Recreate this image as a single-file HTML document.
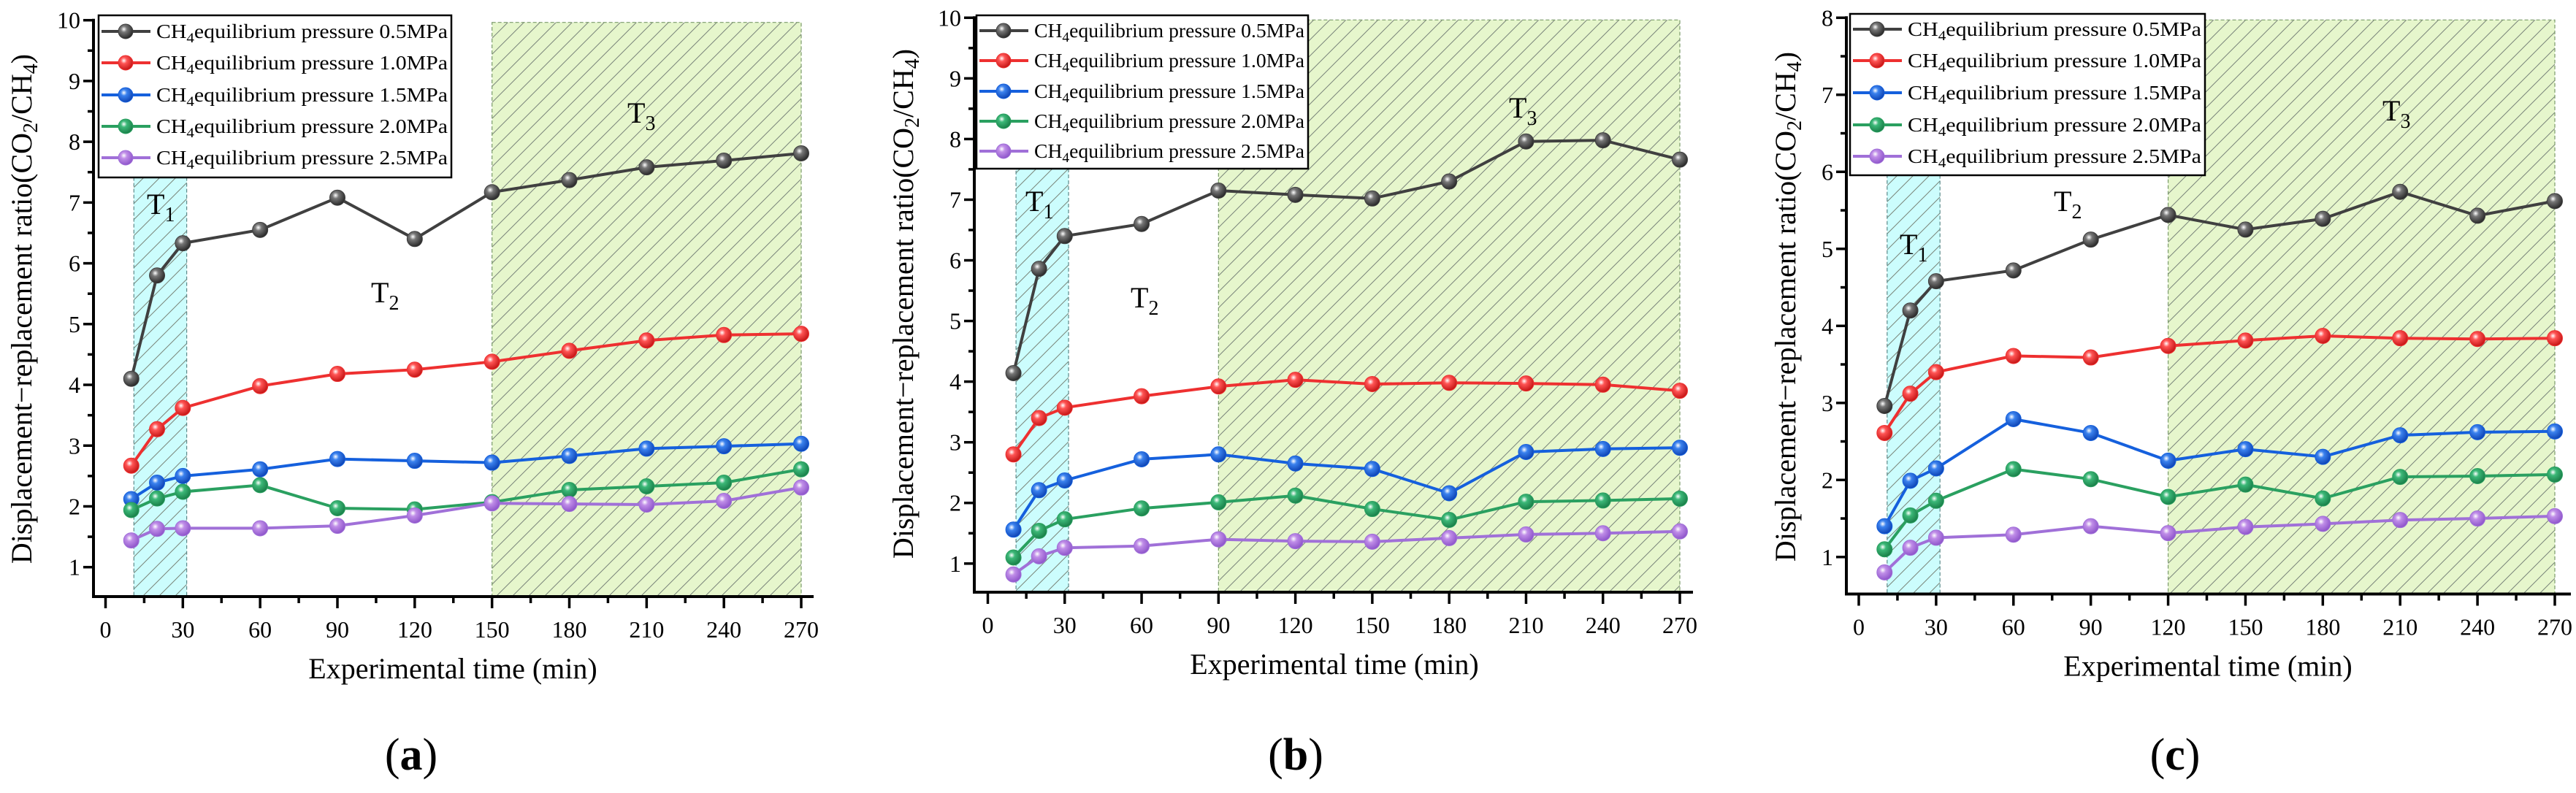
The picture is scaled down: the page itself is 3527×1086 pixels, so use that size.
<!DOCTYPE html>
<html><head><meta charset="utf-8"><style>
html,body{margin:0;padding:0;background:#fff}
svg{display:block;font-family:"Liberation Serif",serif}
</style></head><body>
<svg id="fig" width="3527" height="1086" viewBox="0 0 3527 1086" xmlns="http://www.w3.org/2000/svg">
<defs>
<pattern id="hatch" patternUnits="userSpaceOnUse" width="22" height="22">
<path d="M-2,24 L24,-2 M-13,13 L13,-13 M9,35 L35,9" stroke="#7a857a" stroke-width="1" fill="none"/>
</pattern>
<radialGradient id="gk" cx="0.38" cy="0.35" r="0.7"><stop offset="0" stop-color="#fff"/><stop offset="0.3" stop-color="#777"/><stop offset="1" stop-color="#222"/></radialGradient>
<radialGradient id="gr" cx="0.38" cy="0.35" r="0.7"><stop offset="0" stop-color="#fff"/><stop offset="0.3" stop-color="#f55"/><stop offset="1" stop-color="#c01010"/></radialGradient>
<radialGradient id="gb" cx="0.38" cy="0.35" r="0.7"><stop offset="0" stop-color="#fff"/><stop offset="0.3" stop-color="#3b82ee"/><stop offset="1" stop-color="#0a3fb0"/></radialGradient>
<radialGradient id="gg" cx="0.38" cy="0.35" r="0.7"><stop offset="0" stop-color="#fff"/><stop offset="0.3" stop-color="#3cb878"/><stop offset="1" stop-color="#167a44"/></radialGradient>
<radialGradient id="gp" cx="0.38" cy="0.35" r="0.7"><stop offset="0" stop-color="#fff"/><stop offset="0.3" stop-color="#c08ee8"/><stop offset="1" stop-color="#8a50c8"/></radialGradient>
</defs>
</svg>
<script>
const times = [10,20,30,60,90,120,150,180,210,240,270];
const seriesNames = ["CH4 0.5MPa","CH4 1.0MPa","CH4 1.5MPa","CH4 2.0MPa","CH4 2.5MPa"];
const legendPressures = ["0.5MPa","1.0MPa","1.5MPa","2.0MPa","2.5MPa"];
const xTicks = [0,30,60,90,120,150,180,210,240,270];
const aBlack = [4.1,5.8,6.33,6.55,7.08,6.4,7.17,7.37,7.58,7.69,7.81];
const aRed = [2.67,3.27,3.62,3.98,4.18,4.25,4.38,4.56,4.73,4.82,4.84];
const aBlue = [2.12,2.39,2.5,2.61,2.78,2.75,2.72,2.83,2.95,2.99,3.03];
const aGreen = [1.94,2.13,2.24,2.35,1.97,1.95,2.07,2.27,2.33,2.39,2.61];
const aPurple = [1.44,1.63,1.64,1.64,1.68,1.85,2.05,2.04,2.03,2.09,2.31];
const bBlack = [4.14,5.86,6.4,6.6,7.15,7.08,7.02,7.3,7.96,7.98,7.66];
const bRed = [2.8,3.4,3.57,3.76,3.92,4.03,3.96,3.98,3.97,3.95,3.85];
const bBlue = [1.56,2.21,2.37,2.72,2.8,2.65,2.56,2.16,2.84,2.89,2.91];
const bGreen = [1.1,1.54,1.73,1.91,2.01,2.12,1.9,1.72,2.02,2.04,2.07];
const bPurple = [0.82,1.12,1.26,1.29,1.4,1.37,1.36,1.42,1.48,1.5,1.53];
const cBlack = [2.96,4.2,4.58,4.72,5.12,5.44,5.25,5.39,5.74,5.43,5.62];
const cRed = [2.61,3.12,3.4,3.61,3.59,3.74,3.81,3.87,3.84,3.83,3.84];
const cBlue = [1.4,1.99,2.15,2.79,2.61,2.25,2.4,2.3,2.58,2.62,2.63];
const cGreen = [1.1,1.54,1.73,2.14,2.01,1.78,1.94,1.76,2.04,2.05,2.07];
const cPurple = [0.8,1.12,1.25,1.29,1.4,1.31,1.39,1.43,1.48,1.5,1.53];
const aT3Start = 150, bT3Start = 90, cT3Start = 120;
const t1Range = [11, 31.5];

const NS = "http://www.w3.org/2000/svg";
const svg = document.getElementById("fig");
const colors = ["#404040","#ee3030","#1560dd","#2aa060","#a070d8"];
const grads = ["gk","gr","gb","gg","gp"];
function mk(tag, attrs, parent){const e=document.createElementNS(NS,tag);for(const k in attrs)e.setAttribute(k,attrs[k]);(parent||svg).appendChild(e);return e;}

const panels = [
 {id:"a", data:[aBlack,aRed,aBlue,aGreen,aPurple], t3:aT3Start, yticks:[1,2,3,4,5,6,7,8,9,10],
  axX:128, axR:1114, axB:817, x0:144.5, x270:1097, y1:776.7, yTop:27.7, ymaxV:10,
  leg:[135,21,618,243], legY:[43,86,130,173,216], ytitle:[30,423], xtitle:620, lab:563,
  T1:[219,281], T2:[526,402], T3:[877,156]},
 {id:"b", data:[bBlack,bRed,bBlue,bGreen,bPurple], t3:bT3Start, yticks:[1,2,3,4,5,6,7,8,9,10],
  axX:1334, axR:2318, axB:811, x0:1352.5, x270:2300, y1:771.8, yTop:24.3, ymaxV:10,
  leg:[1337,21,1791,231], legY:[42,83,125,166,207], ytitle:[1237,416], xtitle:1827, lab:1774,
  T1:[1422,277], T2:[1566,409], T3:[2084,149]},
 {id:"c", data:[cBlack,cRed,cBlue,cGreen,cPurple], t3:cT3Start, yticks:[1,2,3,4,5,6,7,8],
  axX:2528, axR:3520, axB:813.5, x0:2545, x270:3498, y1:762.8, yTop:24.3, ymaxV:8,
  leg:[2533,19,3019,240], legY:[40,83,127,171,214], ytitle:[2445,420], xtitle:3023, lab:2978,
  T1:[2619,336], T2:[2830,277], T3:[3280,153]}
];

panels.forEach(p=>{
  const g = mk("g",{});
  
  
  const xs = v => p.x0 + (p.x270-p.x0)*v/270;
  const unit = (p.y1-p.yTop)/(p.ymaxV-1);
  const ys = v => p.y1 - (v-1)*unit;
  const r1 = mk("rect",{x:xs(t1Range[0]),y:p.leg[3],width:xs(t1Range[1])-xs(t1Range[0]),height:p.axB-p.leg[3],fill:"#ccfdfd"},g);
  
  
  const r1h = mk("rect",{x:xs(t1Range[0]),y:p.leg[3],width:xs(t1Range[1])-xs(t1Range[0]),height:p.axB-p.leg[3],fill:"url(#hatch)",stroke:"#5a8a8a","stroke-width":1.2,"stroke-dasharray":"5,3"},g);
  
  
  const r3 = mk("rect",{x:xs(p.t3),y:ys(p.ymaxV)+3,width:xs(270)-xs(p.t3),height:p.axB-ys(p.ymaxV)-3,fill:"#e6f6cc"},g);
  
  
  const r3h = mk("rect",{x:xs(p.t3),y:ys(p.ymaxV)+3,width:xs(270)-xs(p.t3),height:p.axB-ys(p.ymaxV)-3,fill:"url(#hatch)",stroke:"#7a9a6a","stroke-width":1.2,"stroke-dasharray":"5,3"},g);
  
  
  [["T","1",p.T1],["T","2",p.T2],["T","3",p.T3]].forEach(([a,s,pos])=>{
    const t = mk("text",{x:pos[0]-18,y:pos[1]+12,"font-size":40,fill:"#000"},g);
    
    
    t.textContent=a;
    const ts = mk("tspan",{dy:10,"font-size":28},t); ts.textContent=s;
  });
  const ax = mk("path",{d:`M${p.axX},${p.yTop-2} L${p.axX},${p.axB} L${p.axR},${p.axB}`,stroke:"#000","stroke-width":4,fill:"none"},g);
  
  
  for(let v=1; v<=p.ymaxV+0.01; v+=0.5){
    const major = Math.abs(v-Math.round(v))<0.01;
    const tk = mk("line",{x1:p.axX-(major?14:8),x2:p.axX,y1:ys(v),y2:ys(v),stroke:"#000","stroke-width":3.5},g);
    
    
  }
  p.yticks.forEach(v=>{
    const t = mk("text",{x:p.axX-18,y:ys(v)+11,"font-size":32,"text-anchor":"end"},g);
    
    
    t.textContent=v;
  });
  for(let v=0; v<=270; v+=15){
    const major = v%30===0;
    const tk = mk("line",{x1:xs(v),x2:xs(v),y1:p.axB,y2:p.axB+(major?16:9),stroke:"#000","stroke-width":3.5},g);
    
    
  }
  xTicks.forEach(v=>{
    const t = mk("text",{x:xs(v),y:p.axB+56,"font-size":32,"text-anchor":"middle"},g);
    
    
    t.textContent=v;
  });
  const xt = mk("text",{x:p.xtitle,y:p.axB+112,"font-size":40,"text-anchor":"middle"},g);
  
  
  xt.textContent="Experimental time (min)";
  const yt = mk("text",{x:0,y:0,"font-size":40,"text-anchor":"middle",transform:`translate(${p.ytitle[0]+13},${p.ytitle[1]}) rotate(-90)`},g);
  
  
  yt.innerHTML = 'Displacement−replacement ratio(CO<tspan dy="8" font-size="28">2</tspan><tspan dy="-8">/CH</tspan><tspan dy="8" font-size="28">4</tspan><tspan dy="-8">)</tspan>';
  const pl = mk("text",{x:p.lab,y:1054,"font-size":62,"text-anchor":"middle"},g);
  
  
  pl.innerHTML = '(<tspan font-weight="bold">'+p.id+'</tspan>)';
  p.data.forEach((arr,si)=>{
    const sg = mk("g",{},g);
    
    
    const d = arr.map((v,i)=>(i?"L":"M")+xs(times[i]).toFixed(1)+","+ys(v).toFixed(1)).join(" ");
    const ln = mk("path",{d:d,stroke:colors[si],"stroke-width":4,fill:"none"},sg);
    
    
    arr.forEach((v,i)=>{
      const c = mk("circle",{cx:xs(times[i]),cy:ys(v),r:10.5,fill:"url(#"+grads[si]+")",stroke:colors[si],"stroke-width":1},sg);
      
      
    });
  });
  const lg = mk("g",{},g);
  
  
  const lb = mk("rect",{x:p.leg[0],y:p.leg[1],width:p.leg[2]-p.leg[0],height:p.leg[3]-p.leg[1],fill:"#fff",stroke:"#000","stroke-width":2.5},lg);
  
  
  p.legY.forEach((yy,si)=>{
    const e = mk("g",{},lg);
    
    
    mk("line",{x1:p.leg[0]+4,x2:p.leg[0]+71,y1:yy,y2:yy,stroke:colors[si],"stroke-width":4},e);
    mk("circle",{cx:p.leg[0]+37,cy:yy,r:10,fill:"url(#"+grads[si]+")",stroke:colors[si],"stroke-width":1},e);
    const tw = p.leg[2]-p.leg[0]-84;
    const t = mk("text",{x:p.leg[0]+79,y:yy+9,"font-size":27,textLength:tw,lengthAdjust:"spacingAndGlyphs"},e);
    t.innerHTML = 'CH<tspan dy="6" font-size="19">4</tspan><tspan dy="-6">equilibrium pressure '+legendPressures[si]+'</tspan>';
  });
});
</script>
</body></html>
